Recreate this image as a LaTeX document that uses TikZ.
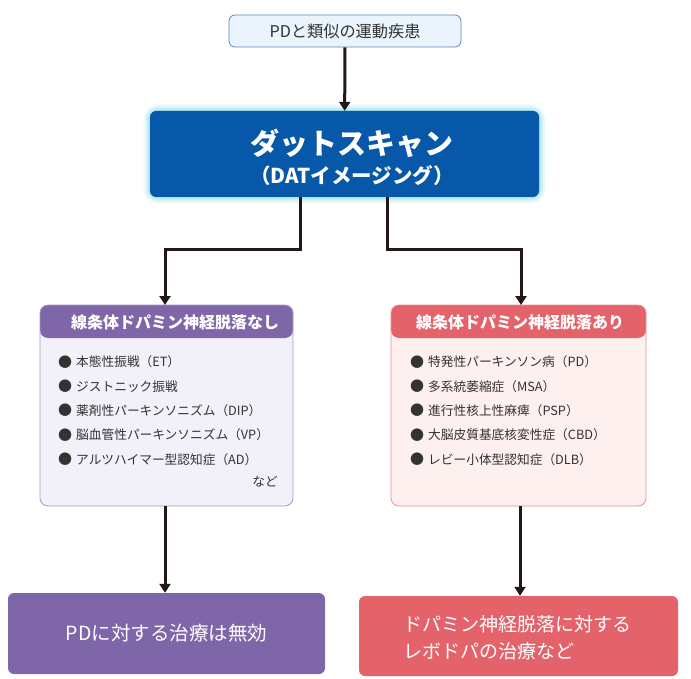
\documentclass[tikz,border=0pt]{standalone}
\usepackage{fontspec}
\setmainfont{Noto Sans CJK JP}
\usetikzlibrary{arrows.meta}
\definecolor{topfill}{HTML}{EAF4FC}
\definecolor{topline}{HTML}{5A88C0}
\definecolor{mainblue}{HTML}{0758A8}
\definecolor{glow}{HTML}{7FD8E8}
\definecolor{purp}{HTML}{7E66A8}
\definecolor{purpbody}{HTML}{F2F0F9}
\definecolor{purpline}{HTML}{A898C8}
\definecolor{redh}{HTML}{E4636A}
\definecolor{redbody}{HTML}{FDF0EE}
\definecolor{redline}{HTML}{E89098}
\definecolor{arrowc}{HTML}{231815}
\definecolor{txt}{HTML}{333333}
\tikzset{
  conn/.style={draw=arrowc, line width=3pt, -{Triangle[length=9pt,width=11pt]}},
  item/.style={anchor=west, font=\fontsize{12.7}{14}\selectfont, text=txt, inner sep=0pt},
  bul/.style={anchor=west, font=\fontsize{14}{14}\selectfont, text=txt, inner sep=0pt},
}
\begin{document}
\begin{tikzpicture}[x=1pt,y=-1pt]
\useasboundingbox (0,0) rectangle (691,679);
% top box
\node[draw=topline, fill=topfill, rounded corners=6pt, line width=0.8pt, minimum width=232pt, minimum height=32pt, font=\fontsize{16.2}{18}\selectfont, text=txt] (top) at (345,31) {PDと類似の運動疾患};
% glow
\foreach \w/\o in {14/0.08,11/0.12,8/0.18,5/0.25,2/0.35}{
  \draw[glow, line width=\w pt, opacity=\o, rounded corners=8pt] (150,111) rectangle (539,197);
}
\node[fill=mainblue, rounded corners=6pt, minimum width=389pt, minimum height=86pt, inner sep=0pt] (dat) at (344.5,154) {};
\node[text=white, font=\fontsize{29}{32}\selectfont\bfseries] (dat1) at (352,143) {ダットスキャン};
\node[text=white, font=\fontsize{20.5}{22}\selectfont\bfseries] (dat2) at (352,176) {（DATイメージング）};
\coordinate (datL) at (300,197);
\coordinate (datR) at (387,197);
% left box
\fill[purpbody, rounded corners=8pt] (40,305) rectangle (293,506);
\fill[purp, rounded corners=8pt] (40,338) -- (40,305) -- (293,305) -- (293,338) -- cycle;
\draw[purpline, line width=0.8pt, rounded corners=8pt] (40,305) rectangle (293,506);
\node[text=white, font=\fontsize{16}{17}\selectfont\bfseries] (lh) at (175,322) {線条体ドパミン神経脱落なし};
\coordinate (lboxT) at (165,305);
\coordinate (lboxB) at (165,506);
\foreach \t [count=\i] in {本態性振戦（ET）,ジストニック振戦,薬剤性パーキンソニズム（DIP）,脳血管性パーキンソニズム（VP）,アルツハイマー型認知症（AD）}{
  \node[bul] at (58,{362+(\i-1)*24.3}) {●};
  \node[item] at (76,{362+(\i-1)*24.3}) {\t};
}
\node[item, anchor=east] (nado) at (278,482) {など};
% right box
\fill[redbody, rounded corners=8pt] (391,305) rectangle (646,506);
\fill[redh, rounded corners=8pt] (391,338) -- (391,305) -- (646,305) -- (646,338) -- cycle;
\draw[redline, line width=0.8pt, rounded corners=8pt] (391,305) rectangle (646,506);
\node[text=white, font=\fontsize{16}{17}\selectfont\bfseries] (rh) at (520,322) {線条体ドパミン神経脱落あり};
\coordinate (rboxT) at (521,305);
\coordinate (rboxB) at (520,506);
\foreach \t [count=\i] in {特発性パーキンソン病（PD）,多系統萎縮症（MSA）,進行性核上性麻痺（PSP）,大脳皮質基底核変性症（CBD）,レビー小体型認知症（DLB）}{
  \node[bul] at (410,{362+(\i-1)*24.3}) {●};
  \node[item] at (428,{362+(\i-1)*24.3}) {\t};
}
% bottom boxes
\node[fill=purp, rounded corners=6pt, minimum width=317pt, minimum height=81pt, text=white, font=\fontsize{19.5}{22}\selectfont] (bl) at (166.5,633.5) {PDに対する治療は無効};
\node[fill=redh, rounded corners=6pt, minimum width=319pt, minimum height=80pt, inner sep=0pt] (br) at (518.5,636) {};
\node[text=white, font=\fontsize{19}{27}\selectfont, align=left, anchor=west] (brt) at (399.5,637.5) {ドパミン神経脱落に対する\\レボドパの治療など};
% connectors
\draw[conn] (top) -- (dat);
\draw[conn] (datL) |- (165,250) -- (lboxT);
\draw[conn] (datR) |- (521,250) -- (rboxT);
\draw[conn] (lboxB) -- (bl.north -| lboxB);
\draw[conn] (rboxB) -- (br.north -| rboxB);
\end{tikzpicture}
\end{document}
